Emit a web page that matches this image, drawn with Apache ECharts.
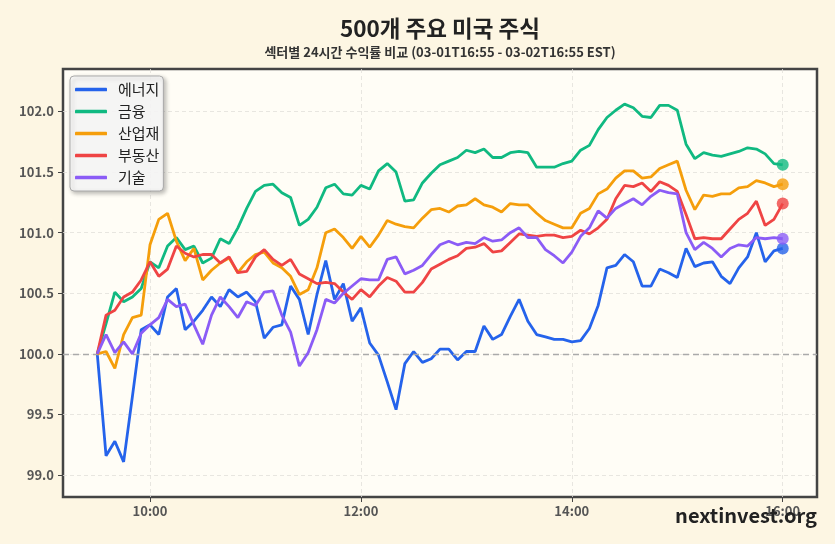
<!DOCTYPE html>
<html>
<head>
<meta charset="utf-8">
<script src="https://cdn.jsdelivr.net/npm/echarts@6/dist/echarts.min.js"></script>
<style>
  html, body { margin: 0; padding: 0; background: #fdf6e3; }
  #chart { width: 835px; height: 544px; }
</style>
</head>
<body>
<div id="chart"></div>
<script>
const FONT = '"Noto Sans CJK KR", "Noto Sans", sans-serif'

// 5분 간격, 09:30 ~ 16:00 (분 단위)
const times = Array.from({ length: 79 }, (_, i) => 570 + 5 * i)

const xTicks = [600, 720, 840, 960]
const xTickLabels = ['10:00', '12:00', '14:00', '16:00']
const yTicks = [99.0, 99.5, 100.0, 100.5, 101.0, 101.5, 102.0]

const names = ['에너지', '금융', '산업재', '부동산', '기술']
const colors = ['#2563eb', '#10b981', '#f59e0b', '#ef4444', '#8b5cf6']

const energy = [
  100.0, 99.16, 99.28, 99.11, 99.65, 100.2, 100.24, 100.16, 100.47, 100.54,
  100.2, 100.27, 100.36, 100.47, 100.39, 100.53, 100.47, 100.51, 100.43, 100.13,
  100.22, 100.24, 100.56, 100.45, 100.16, 100.49, 100.77, 100.45, 100.58, 100.27,
  100.38, 100.09, 99.99, 99.77, 99.54, 99.92, 100.02, 99.93, 99.96, 100.04,
  100.04, 99.95, 100.02, 100.02, 100.23, 100.12, 100.16, 100.31, 100.45, 100.27,
  100.16, 100.14, 100.12, 100.12, 100.10, 100.11, 100.21, 100.40, 100.71, 100.73,
  100.82, 100.76, 100.56, 100.56, 100.70, 100.67, 100.63, 100.87, 100.72, 100.75,
  100.76, 100.64, 100.58, 100.71, 100.80, 101.00, 100.76, 100.85, 100.87,
]
const finance = [
  100.0, 100.25, 100.51, 100.43, 100.47, 100.54, 100.76, 100.71, 100.89, 100.96,
  100.86, 100.89, 100.75, 100.79, 100.95, 100.91, 101.04, 101.20, 101.34, 101.39,
  101.40, 101.33, 101.29, 101.06, 101.11, 101.21, 101.37, 101.40, 101.32, 101.31,
  101.39, 101.36, 101.51, 101.57, 101.50, 101.26, 101.27, 101.41, 101.49, 101.56,
  101.59, 101.62, 101.68, 101.66, 101.69, 101.62, 101.62, 101.66, 101.67, 101.66,
  101.54, 101.54, 101.54, 101.57, 101.59, 101.68, 101.72, 101.85, 101.95, 102.01,
  102.06, 102.03, 101.96, 101.95, 102.05, 102.05, 102.01, 101.73, 101.61, 101.66,
  101.64, 101.63, 101.65, 101.67, 101.70, 101.69, 101.65, 101.57, 101.56,
]
const industrials = [
  100.0, 100.02, 99.88, 100.16, 100.30, 100.32, 100.90, 101.11, 101.16, 100.93,
  100.77, 100.87, 100.61, 100.69, 100.75, 100.79, 100.67, 100.76, 100.82, 100.84,
  100.75, 100.71, 100.64, 100.49, 100.53, 100.71, 101.00, 101.03, 100.96, 100.87,
  100.97, 100.88, 100.98, 101.10, 101.07, 101.05, 101.04, 101.12, 101.19, 101.20,
  101.17, 101.22, 101.23, 101.28, 101.23, 101.21, 101.17, 101.24, 101.23, 101.23,
  101.16, 101.10, 101.07, 101.04, 101.04, 101.16, 101.20, 101.32, 101.36, 101.45,
  101.51, 101.51, 101.45, 101.46, 101.53, 101.56, 101.59, 101.35, 101.19, 101.31,
  101.30, 101.32, 101.32, 101.37, 101.38, 101.43, 101.41, 101.38, 101.40,
]
const realEstate = [
  100.0, 100.32, 100.36, 100.47, 100.51, 100.61, 100.76, 100.64, 100.70, 100.89,
  100.83, 100.80, 100.82, 100.82, 100.75, 100.80, 100.67, 100.68, 100.80, 100.86,
  100.78, 100.73, 100.78, 100.66, 100.62, 100.58, 100.59, 100.58, 100.51, 100.45,
  100.53, 100.47, 100.56, 100.63, 100.60, 100.51, 100.51, 100.59, 100.70, 100.74,
  100.78, 100.81, 100.87, 100.88, 100.91, 100.84, 100.85, 100.92, 100.99, 100.98,
  100.97, 100.98, 100.98, 100.96, 100.97, 101.02, 100.99, 101.04, 101.11, 101.28,
  101.39, 101.38, 101.41, 101.34, 101.42, 101.39, 101.34, 101.15, 100.95, 100.96,
  100.95, 100.95, 101.03, 101.11, 101.16, 101.26, 101.06, 101.11, 101.24,
]
const tech = [
  100.0, 100.16, 100.01, 100.10, 100.0, 100.17, 100.24, 100.30, 100.45, 100.39,
  100.41, 100.24, 100.08, 100.32, 100.47, 100.39, 100.30, 100.43, 100.40, 100.51,
  100.52, 100.32, 100.18, 99.90, 100.01, 100.20, 100.45, 100.42, 100.50, 100.56,
  100.62, 100.61, 100.61, 100.78, 100.80, 100.66, 100.69, 100.73, 100.82, 100.90,
  100.93, 100.90, 100.92, 100.91, 100.96, 100.93, 100.94, 101.00, 101.04, 100.96,
  100.96, 100.86, 100.81, 100.75, 100.84, 100.97, 101.04, 101.18, 101.12, 101.20,
  101.24, 101.28, 101.23, 101.30, 101.35, 101.33, 101.32, 101.00, 100.86, 100.92,
  100.87, 100.80, 100.87, 100.90, 100.89, 100.96, 100.95, 100.96, 100.95,
]

const allSeries = [energy, finance, industrials, realEstate, tech]

const chart = echarts.init(document.getElementById('chart'))

const lineSeries = allSeries.map((vals, k) => ({
  type: 'line',
  name: names[k],
  data: times.map((t, i) => [t, vals[i]]),
  symbol: 'none',
  showSymbol: false,
  lineStyle: { width: 2.8, color: colors[k] },
  itemStyle: { color: colors[k] },
  z: 3 + k,
  markLine: k === 0 ? {
    silent: true,
    symbol: 'none',
    label: { show: false },
    lineStyle: { type: [6, 4], color: '#aaa', width: 1.3 },
    data: [{ yAxis: 100 }],
  } : undefined,
}))

// 마지막 지점 점
const endDots = allSeries.map((vals, k) => ({
  type: 'scatter',
  name: names[k] + '_end',
  data: [[times[times.length - 1], vals[vals.length - 1]]],
  symbolSize: 12,
  itemStyle: { color: colors[k] },
  z: 10 + k,
}))

chart.setOption({
  animation: false,
  backgroundColor: '#fdf6e3',
  textStyle: { fontFamily: FONT },
  grid: {
    left: 63, right: 18, top: 69, bottom: 47,
    show: true,
    backgroundColor: '#fffdf6',
    borderColor: '#444',
    borderWidth: 2.5,
  },
  graphic: [
    {
      type: 'text', x: 440, y: 28,
      style: {
        text: '500개 주요 미국 주식', fontFamily: FONT, fontSize: 22.5, fontWeight: 'bold',
        fill: '#222', textAlign: 'center', textVerticalAlign: 'middle',
      },
    },
    {
      type: 'text', x: 440, y: 52,
      style: {
        text: '섹터별 24시간 수익률 비교 (03-01T16:55 - 03-02T16:55 EST)', fontFamily: FONT,
        fontSize: 13, fontWeight: 'bold', fill: '#333', textAlign: 'center', textVerticalAlign: 'middle',
      },
    },
    {
      type: 'text', x: 817, y: 515, z: 100,
      style: {
        text: 'nextinvest.org', fontFamily: FONT, fontSize: 20, fontWeight: 'bold',
        fill: '#222', textAlign: 'right', textVerticalAlign: 'middle',
      },
    },
  ],
  legend: {
    data: names,
    orient: 'vertical',
    left: 70, top: 76,
    icon: 'roundRect',
    itemWidth: 32, itemHeight: 3.5, itemGap: 7,
    padding: [6, 4, 6, 5],
    backgroundColor: 'rgba(255,255,255,0.85)',
    borderColor: '#aaa', borderWidth: 1, borderRadius: 4,
    shadowBlur: 4, shadowColor: 'rgba(0,0,0,0.3)', shadowOffsetX: 2, shadowOffsetY: 2,
    textStyle: { fontFamily: FONT, fontSize: 15, color: '#222', padding: [0, 0, 0, 6] },
  },
  xAxis: {
    type: 'value',
    min: 550.5, max: 979.5,
    axisLine: { show: false },
    axisTick: { show: true, customValues: xTicks, length: 5, lineStyle: { color: '#444' } },
    axisLabel: {
      customValues: xTicks,
      formatter: (v) => xTickLabels[xTicks.indexOf(v)],
      color: '#555', fontSize: 13, fontWeight: 'bold', margin: 8, fontFamily: FONT,
    },
    splitLine: { show: true, lineStyle: { type: [4, 3], color: '#e2e0da', width: 0.8 } },
  },
  yAxis: {
    type: 'value',
    min: 98.82, max: 102.35,
    axisLine: { show: false },
    axisTick: { show: true, customValues: yTicks, length: 5, lineStyle: { color: '#444' } },
    axisLabel: {
      customValues: yTicks,
      formatter: (v) => v.toFixed(1),
      color: '#555', fontSize: 13, fontWeight: 'bold', margin: 9, fontFamily: FONT,
    },
    splitLine: { show: true, lineStyle: { type: [4, 3], color: '#e2e0da', width: 0.8 } },
  },
  series: [...lineSeries, ...endDots],
})
</script>
</body>
</html>
